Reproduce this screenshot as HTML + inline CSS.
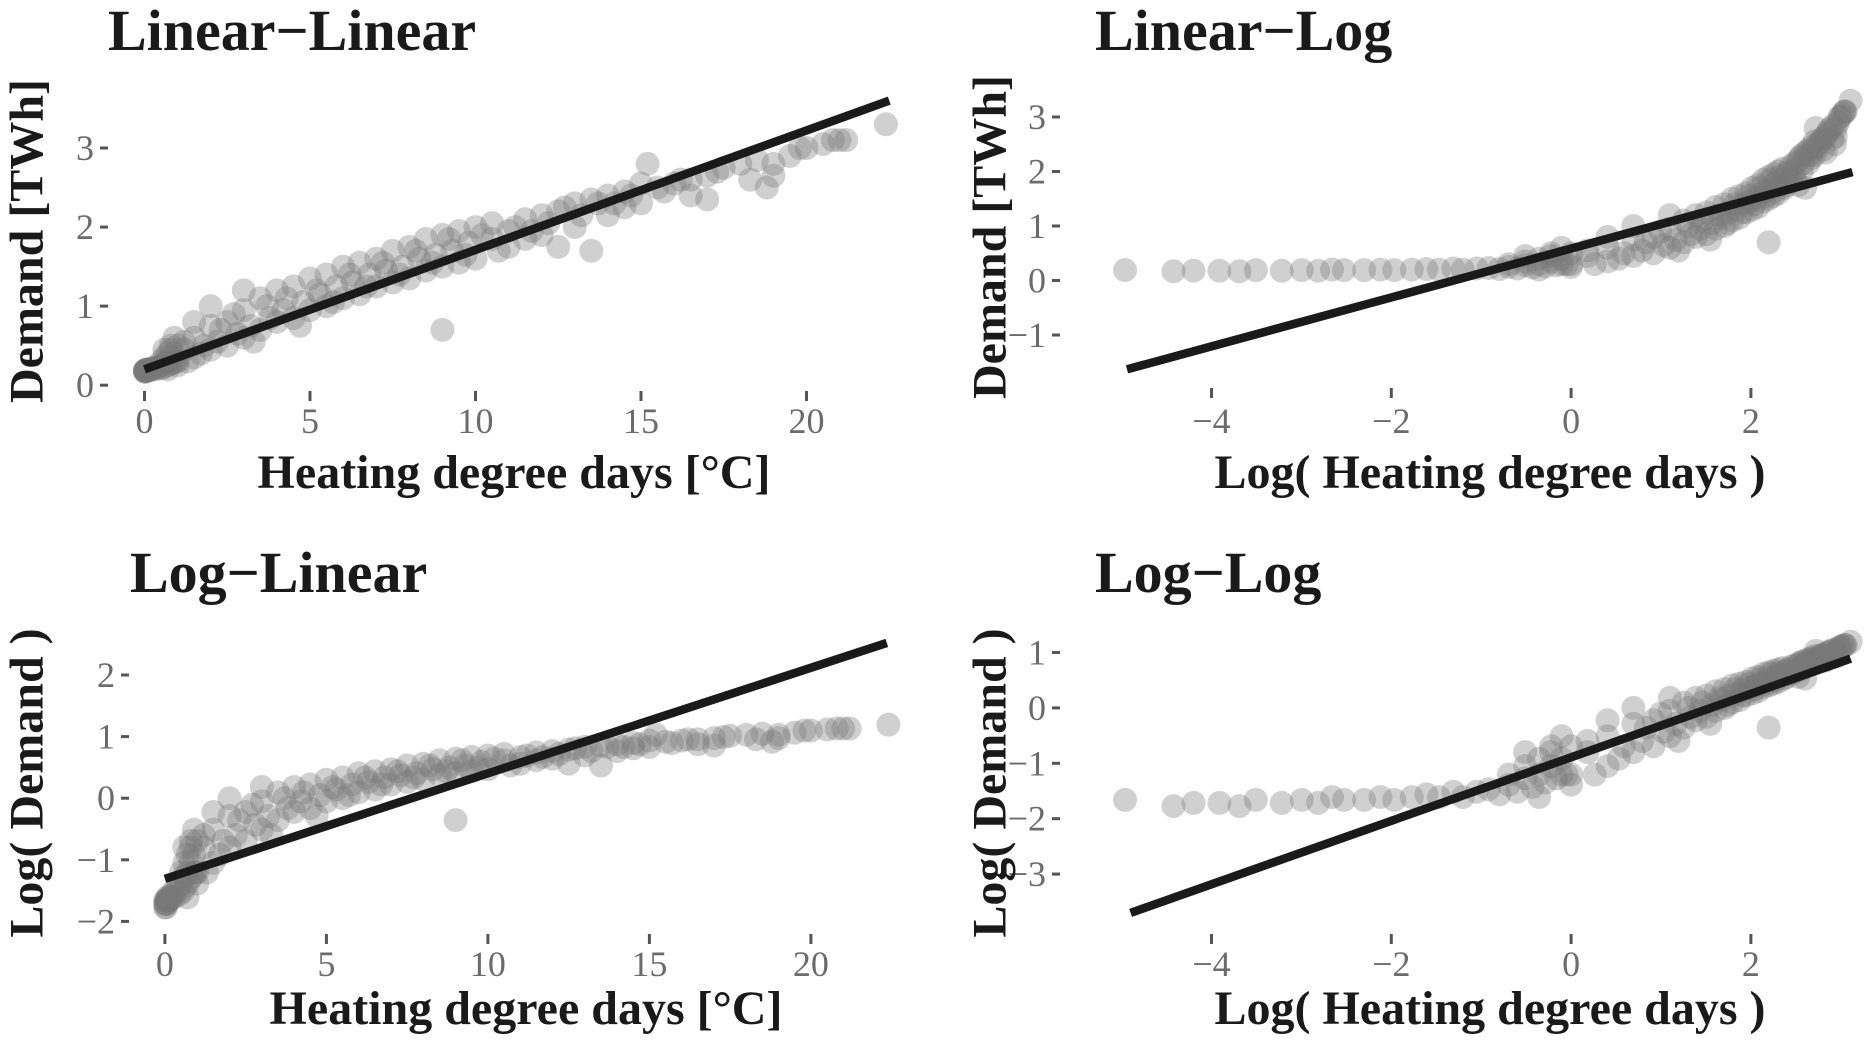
<!DOCTYPE html>
<html><head><meta charset="utf-8"><style>
html,body{margin:0;padding:0;background:#fff;}
svg text{font-family:"Liberation Serif",serif;}
</style></head><body>
<svg id="chart" width="1866" height="1038" viewBox="0 0 1866 1038" xmlns="http://www.w3.org/2000/svg"></svg>
<script>
// underlying observations
const hdd = [0.007,0.012,0.015,0.02,0.025,0.03,0.04,0.05,0.06,0.07,0.08,0.1,0.12,0.14,0.17,0.2,0.23,0.27,0.3,0.35,0.4,0.45,0.5,0.55,0.6,0.65,0.7,0.75,0.8,0.85,0.9,0.95,1.0,1.0,0.9,0.8,0.7,0.6,
1.2,1.3,1.5,1.5,1.5,1.8,2,2,2,2.2,2.5,2.5,2.8,3,3,3,3.2,3.5,3.5,3.8,4,4,4.2,4.5,4.5,4.8,5,5,5.3,5.5,5.5,5.8,6,6,6.3,6.5,6.5,6.8,7,7,7.3,7.5,7.5,7.8,8,8,8.3,8.5,8.5,8.8,9,9,9,9.3,9.5,9.5,9.8,10,10,10.5,10.5,11,11,11.5,11.5,12,12,12.5,12.5,13,13,13.5,13.5,14,14,14.5,14.5,15,15,15.2,15.5,16,16.5,16.5,17,17,17.5,18,18.3,18.8,19,19,19.5,20,20.5,21,21.2,22.4,
1.0,1.2,1.7,2.3,2.7,3.3,3.7,4.3,4.7,5.2,5.7,6.2,6.7,7.2,7.7,8.2,8.7,9.2,9.7,10.2,10.7,11.2,11.7,12.2,12.7,13.2,13.7,14.2,14.7,15.7,16.2,17.3,18.5,19.8,20.8,0.5,0.6,0.7,0.8,0.9];
const demand = [0.19,0.17,0.18,0.18,0.17,0.19,0.18,0.19,0.18,0.2,0.19,0.19,0.2,0.19,0.2,0.21,0.2,0.22,0.2,0.22,0.23,0.21,0.25,0.22,0.28,0.24,0.3,0.26,0.35,0.28,0.4,0.3,0.5,0.25,0.6,0.45,0.2,0.35,
0.45,0.3,0.6,0.35,0.8,0.5,0.75,0.45,1.0,0.55,0.8,0.5,0.65,0.95,0.6,1.2,0.75,1.1,0.7,0.85,1.2,0.8,0.95,1.25,0.85,1.05,1.35,0.95,1.15,1.4,1.0,1.25,1.5,1.1,1.3,1.55,1.15,1.4,1.6,1.25,1.45,1.7,1.3,1.5,1.75,1.35,1.6,1.85,1.45,1.65,0.7,1.9,1.5,1.7,1.95,1.55,1.8,2.0,1.6,1.85,2.05,1.95,1.75,2.1,1.85,2.15,1.9,2.2,1.75,2.3,2.0,2.35,1.7,2.4,2.15,2.45,2.25,2.55,2.3,2.8,2.5,2.55,2.6,2.4,2.65,2.35,2.75,2.8,2.6,2.5,2.8,2.65,2.9,3.0,3.05,3.1,3.1,3.3,
0.3,0.55,0.4,0.7,0.9,0.55,1.0,1.1,0.75,1.2,1.05,1.4,1.25,1.55,1.4,1.7,1.55,1.85,1.65,1.9,1.7,2.0,1.95,2.05,2.25,2.15,2.3,2.3,2.4,2.45,2.6,2.7,2.85,3.0,3.1,0.3,0.45,0.4,0.5,0.3];
// fitted line endpoints per panel [x0,x1], [y0,y1]
const fitLinLinX = [0, 22.5], fitLinLinY = [0.2, 3.6];
const fitLinLogX = [-4.94, 3.13], fitLinLogY = [-1.63, 1.99];
const fitLogLinX = [0, 22.35], fitLogLinY = [-1.31, 2.52];
const fitLogLogX = [-4.9, 3.11], fitLogLogY = [-3.7, 0.89];
// tick labels
const ticksLinX = [0,5,10,15,20];
const ticksLogX = [-4,-2,0,2];
const ticksDemY = [0,1,2,3];
const ticksDemY2 = [-1,0,1,2,3];
const ticksLogDemY = [-2,-1,0,1,2];
const ticksLogLogY = [-3,-2,-1,0,1];

const NS="http://www.w3.org/2000/svg";
const svg=document.getElementById('chart');
function mk(tag,attrs,parent){const e=document.createElementNS(NS,tag);for(const k in attrs)e.setAttribute(k,attrs[k]);(parent||svg).appendChild(e);return e;}
const fmt=v=>v<0?'\u2212'+(-v):String(v);

const panels=[
 {name:'linear-linear',title:'Linear\u2212Linear',tx:108,ty:50,xt:'Heating degree days [\u00b0C]',xtx:514,xty:488,yt:'Demand [TWh]',ytx:27,yty:241,
  x0:144.5,xs:33.1,y0:385.2,ys:79.06,xticks:ticksLinX,yticks:ticksDemY,ytickX:108,xtickY:391,xlabY:421,
  xv:i=>hdd[i],yv:i=>demand[i],fx:fitLinLinX,fy:fitLinLinY},
 {name:'linear-log',title:'Linear\u2212Log',tx:1095,ty:50,xt:'Log( Heating degree days )',xtx:1490,xty:488,yt:'Demand [TWh]',ytx:990,yty:237,
  x0:1571.1,xs:89.9,y0:280.5,ys:54.5,xticks:ticksLogX,yticks:ticksDemY2,ytickX:1060,xtickY:388,xlabY:421,
  xv:i=>Math.log(hdd[i]),yv:i=>demand[i],fx:fitLinLogX,fy:fitLinLogY},
 {name:'log-linear',title:'Log\u2212Linear',tx:130,ty:592,xt:'Heating degree days [\u00b0C]',xtx:526,xty:1024,yt:'Log( Demand )',ytx:27,yty:783,
  x0:164.9,xs:32.3,y0:798.2,ys:61.6,xticks:ticksLinX,yticks:ticksLogDemY,ytickX:129,xtickY:934,xlabY:964,
  xv:i=>hdd[i],yv:i=>Math.log(demand[i]),fx:fitLogLinX,fy:fitLogLinY},
 {name:'log-log',title:'Log\u2212Log',tx:1095,ty:592,xt:'Log( Heating degree days )',xtx:1490,xty:1024,yt:'Log( Demand )',ytx:990,yty:783,
  x0:1571.1,xs:89.9,y0:707.9,ys:55.4,xticks:ticksLogX,yticks:ticksLogLogY,ytickX:1060,xtickY:934,xlabY:964,
  xv:i=>Math.log(hdd[i]),yv:i=>Math.log(demand[i]),fx:fitLogLogX,fy:fitLogLogY}
];

panels.forEach(p=>{
  const g=mk('g',{});
  
  
  const X=v=>p.x0+v*p.xs, Y=v=>p.y0-v*p.ys;
  const t=mk('text',{x:p.tx,y:p.ty,'font-size':58,'font-weight':'bold',fill:'#1a1a1a'},g);
  t.textContent=p.title;
  
  
  const pg=mk('g',{},g);
  
  
  for(let i=0;i<hdd.length;i++){
    const c=mk('circle',{cx:X(p.xv(i)),cy:Y(p.yv(i)),r:12,fill:'#777','fill-opacity':0.35},pg);
    
    
  }
  const l=mk('line',{x1:X(p.fx[0]),y1:Y(p.fy[0]),x2:X(p.fx[1]),y2:Y(p.fy[1]),stroke:'#1a1a1a','stroke-width':8.5},g);
  
  
  p.xticks.forEach(v=>{
    const tk=mk('line',{x1:X(v),x2:X(v),y1:p.xtickY,y2:p.xtickY+10,stroke:'#555','stroke-width':3},g);
    
    
    const tl=mk('text',{x:X(v),y:p.xlabY,'font-size':36,fill:'#6b6b6b','text-anchor':'middle','dominant-baseline':'central'},g);
    tl.textContent=fmt(v);
    
    
  });
  p.yticks.forEach(v=>{
    const tk=mk('line',{x1:p.ytickX-8,x2:p.ytickX,y1:Y(v),y2:Y(v),stroke:'#555','stroke-width':3},g);
    
    
    const tl=mk('text',{x:p.ytickX-14,y:Y(v),'font-size':36,fill:'#6b6b6b','text-anchor':'end','dominant-baseline':'central'},g);
    tl.textContent=fmt(v);
    
    
  });
  const xt=mk('text',{x:p.xtx,y:p.xty,'font-size':48,'font-weight':'bold',fill:'#1a1a1a','text-anchor':'middle'},g);
  xt.textContent=p.xt;
  
  
  const yt=mk('text',{x:0,y:0,'font-size':48,'font-weight':'bold',fill:'#1a1a1a','text-anchor':'middle','dominant-baseline':'central',transform:`translate(${p.ytx},${p.yty}) rotate(-90)`},g);
  yt.textContent=p.yt;
  
  
});
</script>
</body></html>
